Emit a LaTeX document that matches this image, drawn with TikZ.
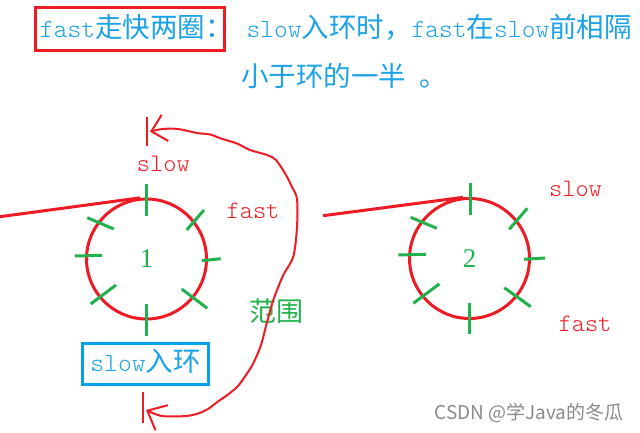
\documentclass[tikz,border=0pt]{standalone}
\usepackage{fontspec}
\usetikzlibrary{arrows.meta}
\newfontfamily\cjkfont{Noto Sans CJK SC}
\newfontfamily\digfont{Liberation Serif}
\newcommand\mylat[1]{{\ttfamily\fontseries{l}\fontsize{26.2pt}{30pt}\selectfont #1}}
\newcommand\myhan[1]{{\cjkfont\fontsize{27.5pt}{30pt}\selectfont #1}}
\definecolor{pred}{HTML}{ED1C24}
\definecolor{pgreen}{HTML}{22B14C}
\definecolor{pblue}{HTML}{00A2E8}
\definecolor{tblue}{HTML}{1BA1E6}
\definecolor{wgray}{HTML}{8A8A8A}
\tikzset{
  ring/.style={circle, draw=pred, line width=3pt, minimum size=120pt, inner sep=0pt, text=pgreen, font=\digfont\fontsize{27pt}{30pt}\selectfont},
  tick/.style={draw=pgreen, line width=3pt},
  feed/.style={draw=pred, line width=3pt},
  redlbl/.style={text=pred, inner sep=0pt, anchor=base, font=\ttfamily\fontseries{l}\fontsize{25.2pt}{28pt}\selectfont},
  bluetxt/.style={text=tblue, inner sep=0pt},
  rangecurve/.style={draw=pred, line width=2pt, {Straight Barb[length=14pt,width=27pt]}-{Straight Barb[length=16pt,width=28pt]}},
  bar/.style={draw=pred, line width=2pt}
}
\begin{document}
\begin{tikzpicture}[x=1pt,y=-1pt]
\useasboundingbox (0,0) rectangle (640,433);
% title
\node[draw=pred, line width=3pt, bluetxt, minimum width=189pt, minimum height=43.4pt, text height=21pt, text depth=4.4pt] (title) at (129.5,29)
  {\hbox to 189pt{\hspace{5.2pt}\mylat{fast}\myhan{走快两圈：}\hss}};
\node[bluetxt, anchor=base west] (line1) at (246.5,37.8)
  {\mylat{slow}\myhan{入环时，}\mylat{fast}\myhan{在}\mylat{slow}\myhan{前相隔}};
\node[bluetxt, anchor=base west] (line2) at (241,86.5)
  {\myhan{小于环的一半}\mylat{\ }\myhan{。}};
% rings
\node[ring] (c1) at (146.5,259) {1};
\node[ring] (c2) at (469.5,258.5) {2};
\coordinate (in1) at (0,216.7);
\coordinate (in2) at (323,215.7);
\draw[feed] (in1) -- (c1.96);
\draw[feed] (in2) -- (c2.96);
% ticks ring 1
\draw[tick] (146.7,184) -- (146.7,216);
\draw[tick] (186.7,230) -- (204,210);
\draw[tick] (201.7,260.7) -- (220.7,258.7);
\draw[tick] (181.7,289) -- (207.3,308.3);
\draw[tick] (146,304) -- (146,336);
\draw[tick] (116,285) -- (90.7,304);
\draw[tick] (75,256) -- (102,255.3);
\draw[tick] (87.3,217.7) -- (113.7,229);
% ticks ring 2
\draw[tick] (470.7,183.3) -- (470.7,215);
\draw[tick] (527.3,208.3) -- (509.3,229.3);
\draw[tick] (524,259.3) -- (545,258);
\draw[tick] (504.3,287.7) -- (530.7,306.7);
\draw[tick] (469.3,303.3) -- (469.3,334.3);
\draw[tick] (439.3,284) -- (413.3,303.3);
\draw[tick] (398.3,255) -- (426,254.3);
\draw[tick] (410.7,217.3) -- (436.7,228.3);
% labels
\node[redlbl] (slow1) at (163.3,171.7) {slow};
\node[redlbl] (fast1) at (253,218.3) {fast};
\node[redlbl] (slow2) at (575.5,196.5) {slow};
\node[redlbl] (fast2) at (585,331.5) {fast};
\node[text=pgreen, inner sep=0pt, font=\cjkfont\fontsize{27pt}{30pt}\selectfont] (range) at (276,311.5) {范围};
\node[draw=pblue, line width=3pt, bluetxt, minimum width=125.6pt, minimum height=41.5pt, text height=20pt, text depth=5pt] (enter) at (145.5,364.2)
  {\mylat{slow}\myhan{入环}};
% range arrow
\draw[bar] (146.7,116.7) -- (146.7,145.7);
\draw[bar] (143.3,391.7) -- (143.3,423.3);
\coordinate (tipA) at (150,131.7);
\coordinate (tipB) at (146,410);
\draw[rangecurve] plot[smooth, tension=0.5] coordinates {(tipA) (163,129) (178,129) (197,133) (210,134.5) (221,138.5) (237,143.5) (250,150) (267,155) (276,160) (286,175) (292,187) (297,199) (297,227) (293.3,256.7) (283.3,275) (273.3,300) (266.7,323.3) (261,345) (253.3,363.3) (246.7,374) (238,386) (228,394.5) (218,401.5) (208,409) (198,413.5) (186,416) (162,416) (tipB)};
% watermark
\node[text=wgray, inner sep=0pt, font=\cjkfont\fontsize{19pt}{22pt}\selectfont] (mark) at (529,413) {CSDN @学Java的冬瓜};
\end{tikzpicture}
\end{document}
